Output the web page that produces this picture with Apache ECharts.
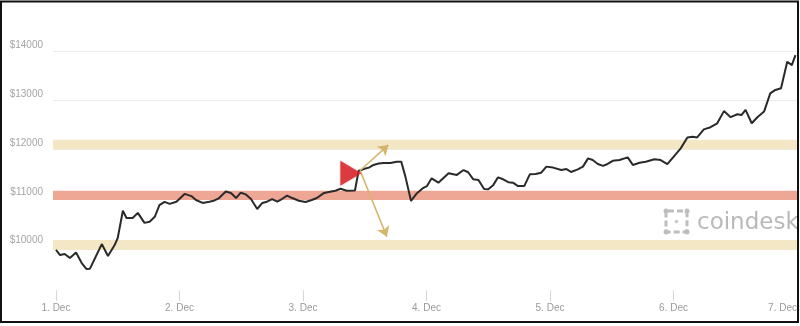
<!DOCTYPE html>
<html>
<head>
<meta charset="utf-8">
<script src="https://cdn.jsdelivr.net/npm/echarts@6/dist/echarts.min.js"></script>
<style>
  html, body { margin: 0; padding: 0; background: #ffffff; }
  #chart { width: 800px; height: 326px; }
</style>
</head>
<body>
<div id="chart"></div>
<script>
// Bitcoin price, hours since 1 Dec 00:00
const hours = [
  0, 0.8, 1.7, 2.7, 3.9, 5.0, 5.9, 6.6, 7.6, 8.9,
  10.1, 11.4, 12.0, 13.0, 13.7, 14.9, 15.9, 17.2, 18.2, 19.2,
  20.1, 21.1, 22.1, 23.4, 25.0, 26.3, 27.2, 28.5, 29.8, 30.8,
  31.7, 33.0, 34.0, 35.0, 35.9, 36.9, 37.9, 39.1, 40.1, 41.0,
  42.0, 43.0, 43.9, 44.9, 45.9, 47.2, 48.5, 49.7, 50.7, 52.1,
  53.0, 54.3, 55.3, 56.5, 58.1, 58.8, 59.8, 60.8, 61.7, 62.7,
  63.7, 65.0, 66.2, 67.1, 67.9, 69.0, 70.1, 71.4, 72.1, 73.0,
  74.3, 76.3, 77.9, 79.2, 80.1, 81.1, 82.1, 83.2, 84.0, 85.0,
  85.9, 86.9, 87.9, 88.8, 89.8, 91.0, 92.1, 93.2, 94.3, 95.3,
  96.6, 98.2, 99.2, 100.1, 101.4, 102.4, 103.4, 104.3, 105.3, 106.3,
  107.2, 108.2, 109.5, 111.1, 112.1, 113.4, 114.6, 116.3, 117.5, 118.8,
  120.5, 121.4, 122.7, 123.7, 124.6, 125.9, 127.2, 128.5, 129.8, 131.1,
  132.4, 133.2, 134.0, 135.2, 136.3, 137.6, 138.8, 139.8, 140.9, 142.1,
  143.0, 143.7
];
const prices = [
  9930, 9825, 9845, 9765, 9875, 9660, 9540, 9545, 9765, 10050,
  9805, 10030, 10175, 10735, 10585, 10585, 10690, 10485, 10510, 10610,
  10850, 10915, 10875, 10920, 11080, 11035, 10955, 10895, 10920, 10945,
  10995, 11130, 11100, 10995, 11105, 11070, 10975, 10770, 10895, 10920,
  10975, 10920, 10975, 11045, 10995, 10940, 10915, 10955, 10995, 11100,
  11120, 11145, 11185, 11145, 11150, 11550, 11590, 11620, 11675, 11705,
  11715, 11715, 11740, 11740, 11435, 10935, 11090, 11205, 11240, 11400,
  11310, 11505, 11470, 11570, 11525, 11380, 11365, 11180, 11175, 11265,
  11420, 11380, 11320, 11310, 11240, 11240, 11485, 11490, 11515, 11640,
  11620, 11570, 11590, 11530, 11585, 11640, 11810, 11775, 11695, 11655,
  11695, 11760, 11775, 11830, 11675, 11720, 11740, 11790, 11775, 11690,
  11900, 12015, 12240, 12255, 12240, 12405, 12450, 12530, 12780, 12655,
  12715, 12700, 12805, 12530, 12655, 12770, 13145, 13215, 13250, 13795,
  13725, 13930
];

// Day ticks on the time axis (hours) and their labels
const dayTicks = [0, 24, 48, 72, 96, 120, 144];
const dayLabels = ['1. Dec', '2. Dec', '3. Dec', '4. Dec', '5. Dec', '6. Dec', '7. Dec'];

// Price levels shown on the y axis
const priceTicks = [10000, 11000, 12000, 13000, 14000];

// Support / resistance zones [low, high]
const supportBands = [[9930, 10135], [11995, 12190]];
const pivotBand = [10955, 11145];

// Breakout marker and the two projected paths [hour, price]
const markerPoint = [57.3, 11505];
const arrowOrigin = [59.1, 11560];
const arrowUpTarget = [64.6, 12085];
const arrowDownTarget = [64.3, 10200];

const labelFont = '"Liberation Sans", Arial, sans-serif';

const chart = echarts.init(document.getElementById('chart'), null, { renderer: 'canvas' });

const bandAreas = supportBands.map(b => [
  { yAxis: b[0], itemStyle: { color: '#f4e7c6' } },
  { yAxis: b[1] }
]);
bandAreas.push([
  { yAxis: pivotBand[0], itemStyle: { color: '#eea795' } },
  { yAxis: pivotBand[1] }
]);

const arrowStyle = { color: '#d5b56b', width: 1.6, type: 'solid' };

chart.setOption({
  animation: false,
  backgroundColor: '#ffffff',
  grid: { left: 53, right: 0, top: 3.0, bottom: 30.8, containLabel: false },
  xAxis: {
    type: 'value',
    min: -0.58,
    max: 144,
    offset: -5,
    axisLine: { show: false },
    splitLine: { show: false },
    axisTick: {
      show: true, length: 11, inside: false,
      customValues: dayTicks,
      lineStyle: { color: '#d6d6d6', width: 1 }
    },
    axisLabel: {
      customValues: dayTicks,
      margin: 13,
      color: '#9a9a9a',
      fontSize: 10,
      fontFamily: labelFont,
      alignMaxLabel: 'right',
      formatter: v => dayLabels[dayTicks.indexOf(Math.round(v))] || ''
    }
  },
  yAxis: {
    type: 'value',
    min: 9000,
    max: 15000,
    interval: 1000,
    axisLine: { show: false },
    axisTick: { show: false },
    splitLine: {
      show: true,
      showMinLine: false,
      showMaxLine: false,
      lineStyle: { color: '#ebebeb', width: 1 }
    },
    axisLabel: {
      showMinLabel: false,
      showMaxLabel: false,
      margin: 10,
      verticalAlign: 'bottom',
      padding: [0, 0, 1, 0],
      color: '#a5a5a5',
      fontSize: 10,
      fontFamily: labelFont,
      formatter: v => priceTicks.indexOf(v) >= 0 ? '$' + v : ''
    }
  },
  series: [
    {
      name: 'BTC',
      type: 'line',
      z: 3,
      data: hours.map((h, i) => [h, prices[i]]),
      showSymbol: false,
      symbol: 'none',
      lineStyle: { color: '#2a2a2a', width: 2 },
      markArea: {
        silent: true,
        z: 1,
        data: bandAreas
      },
      markLine: {
        silent: true,
        z: 6,
        symbol: ['none', 'arrow'],
        symbolSize: 10,
        label: { show: false },
        lineStyle: arrowStyle,
        data: [
          [{ coord: arrowOrigin }, { coord: arrowUpTarget }],
          [{ coord: arrowOrigin }, { coord: arrowDownTarget }]
        ]
      }
    },
    {
      name: 'breakout',
      type: 'scatter',
      z: 8,
      silent: true,
      symbol: 'triangle',
      symbolRotate: -90,
      symbolSize: [25, 21],
      itemStyle: {
        color: '#d41f26',
        shadowBlur: 2,
        shadowColor: 'rgba(212,31,38,0.5)'
      },
      data: [markerPoint]
    }
  ],
  graphic: [
    {
      type: 'group',
      z: 2,
      silent: true,
      children: [
        {
          type: 'rect',
          shape: { x: 666, y: 211, width: 21, height: 21, r: 2 },
          style: { fill: 'none', stroke: '#bdbdbd', lineWidth: 3, lineDash: [6, 3] }
        },
        { type: 'circle', shape: { cx: 666, cy: 211, r: 2.5 }, style: { fill: '#bdbdbd' } },
        { type: 'circle', shape: { cx: 687, cy: 211, r: 2.5 }, style: { fill: '#bdbdbd' } },
        { type: 'circle', shape: { cx: 666, cy: 232, r: 2.5 }, style: { fill: '#bdbdbd' } },
        { type: 'circle', shape: { cx: 687, cy: 232, r: 2.5 }, style: { fill: '#bdbdbd' } },
        { type: 'circle', shape: { cx: 676.5, cy: 221.5, r: 1.8 }, style: { fill: '#c8c8c8' } },
        {
          type: 'text',
          style: {
            text: 'coindesk',
            x: 697, y: 223,
            verticalAlign: 'middle',
            align: 'left',
            font: '23px "DejaVu Sans", sans-serif',
            fill: '#b9b9b9'
          }
        }
      ]
    },
    {
      type: 'rect',
      z: 100,
      silent: true,
      shape: { x: 1, y: 1.5, width: 797, height: 320.5 },
      style: { fill: 'none', stroke: '#111111', lineWidth: 2 }
    }
  ]
});
</script>
</body>
</html>
